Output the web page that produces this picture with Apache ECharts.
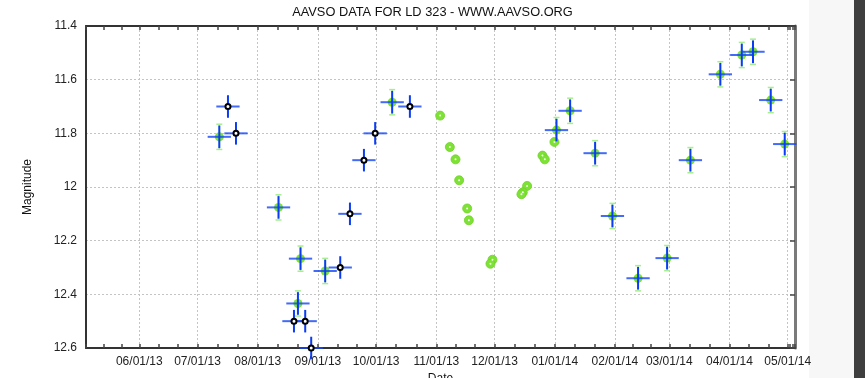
<!DOCTYPE html>
<html>
<head>
<meta charset="utf-8">
<script src="https://cdn.jsdelivr.net/npm/echarts@6/dist/echarts.min.js"></script>
<style>
html,body{margin:0;padding:0;background:#fff;}
#c{width:865px;height:378px;}
</style>
</head>
<body>
<div id="c"></div>
<script>
// Black open circles (with error crosses)
const blackDates = ['2013-07-16 16:00','2013-07-20 19:00','2013-09-24 17:00','2013-09-30 12:00','2013-10-18 09:00',
  '2013-09-17 12:00','2013-09-12 12:00','2013-08-19 16:00','2013-08-25 11:00','2013-08-28 13:00'];
const blackMags = [11.70,11.80,11.90,11.80,11.70,12.10,12.30,12.50,12.50,12.60];

// Green filled circles (with error crosses)
const greenDates = ['2013-07-12 05:00','2013-10-09 06:00','2013-08-11 17:00','2013-08-23 01:00','2013-09-04 18:00',
  '2013-08-21 17:00','2014-01-01 21:00','2014-01-08 22:00','2014-01-21 19:00','2014-03-11 21:00','2014-03-27 07:00',
  '2014-04-07 08:00','2014-04-13 03:00','2014-04-22 06:00','2014-04-29 11:00','2014-01-30 17:00','2014-02-12 22:00',
  '2014-02-27 21:00'];
const greenMags = [11.813,11.684,12.076,12.267,12.313,12.434,11.788,11.716,11.874,11.900,11.580,
  11.508,11.496,11.676,11.840,12.108,12.340,12.265];

// Green circles without crosses
const dotDates = ['2013-11-02 23:00','2013-11-07 23:00','2013-11-10 21:00','2013-11-12 18:00','2013-11-16 21:00',
  '2013-11-17 18:00','2013-11-29 22:00','2013-11-28 21:00','2013-12-17 18:00','2013-12-15 13:00','2013-12-14 20:00',
  '2013-12-25 16:00','2013-12-26 21:00','2013-12-31 20:00'];
const dotMags = [11.734,11.851,11.897,11.975,12.080,12.124,12.271,12.286,11.996,12.020,12.027,11.883,11.897,11.832];

const yTicks = ['11.4','11.6','11.8','12','12.2','12.4','12.6'];

const HALF_SPAN = 6 * 86400000;   // half width of time bar
const MAG_ERR = 0.042;           // half height of error bar
const GREEN_ERR = 0.047;

const pair = (d, m) => d.map((v, i) => [echarts.time.parse(v).getTime(), m[i]]);
const blackData = pair(blackDates, blackMags);
const greenData = pair(greenDates, greenMags);
const dotData = pair(dotDates, dotMags);

function crossRender(params, api) {
  const t = api.value(0), m = api.value(1);
  const c = api.coord([t, m]);
  const l = api.coord([t - HALF_SPAN, m]);
  const r = api.coord([t + HALF_SPAN, m]);
  const tp = api.coord([t, m - MAG_ERR]);
  const bt = api.coord([t, m + MAG_ERR]);
  return {type: 'group', children: [
    {type: 'line', shape: {x1: l[0], y1: c[1], x2: r[0], y2: c[1]}, style: {stroke: 'rgba(20,70,245,0.8)', lineWidth: 2}},
    {type: 'line', shape: {x1: c[0], y1: tp[1], x2: c[0], y2: bt[1]}, style: {stroke: '#0a3cf5', lineWidth: 2}}
  ]};
}
function greenErrRender(params, api) {
  const t = api.value(0), m = api.value(1);
  const tp = api.coord([t, m - GREEN_ERR]);
  const bt = api.coord([t, m + GREEN_ERR]);
  const st = {stroke: '#a8ee90', lineWidth: 1.5};
  return {type: 'group', children: [
    {type: 'line', shape: {x1: tp[0], y1: tp[1], x2: bt[0], y2: bt[1]}, style: st},
    {type: 'line', shape: {x1: tp[0] - 3, y1: tp[1], x2: tp[0] + 3, y2: tp[1]}, style: st},
    {type: 'line', shape: {x1: bt[0] - 3, y1: bt[1], x2: bt[0] + 3, y2: bt[1]}, style: st}
  ]};
}

const xMin = '2013-05-04 13:00', xMax = '2014-05-04 18:00';
const FONT = 'Liberation Sans, Arial, sans-serif';

const chart = echarts.init(document.getElementById('c'), null, {renderer: 'canvas'});
chart.setOption({
  animation: false,
  backgroundColor: '#fff',
  title: {text: 'AAVSO DATA FOR LD 323 - WWW.AAVSO.ORG', left: 'center', top: 1,
    textStyle: {fontFamily: FONT, fontSize: 12.8, fontWeight: 'normal', color: '#111'}},
  graphic: [
    {type: 'rect', shape: {x: 809, y: 0, width: 45, height: 378}, style: {fill: '#f7f7f7'}, z: -10},
    {type: 'rect', shape: {x: 854, y: 0, width: 11, height: 378}, style: {fill: '#3e3e3e'}, z: -10}
  ],
  grid: {left: 86, right: 70, top: 26, bottom: 30, containLabel: false, outerBoundsMode: 'none'},
  xAxis: [{
    type: 'time', min: xMin, max: xMax, position: 'bottom',
    minInterval: 28 * 86400000, maxInterval: 31 * 86400000,
    name: 'Date', nameLocation: 'middle', nameGap: 24,
    nameTextStyle: {fontFamily: FONT, fontSize: 12, color: '#111'},
    axisLine: {lineStyle: {color: '#333', width: 2}},
    axisTick: {inside: true, length: 4, lineStyle: {color: '#444', width: 1.5}},
    minorTick: {show: true, splitNumber: 3, length: 4, lineStyle: {color: '#444', width: 1.5}},
    axisLabel: {fontFamily: FONT, fontSize: 12, color: '#222', margin: 8,
      formatter: v => echarts.time.format(v, '{MM}/{dd}/{yy}', false)},
    splitLine: {show: true, lineStyle: {color: '#c4c4c4', type: [2, 2], width: 1}}
  }, {
    type: 'time', min: xMin, max: xMax, position: 'top',
    minInterval: 28 * 86400000, maxInterval: 31 * 86400000,
    axisLine: {lineStyle: {color: '#333', width: 2}},
    axisTick: {inside: true, length: 4, lineStyle: {color: '#444', width: 1.5}},
    minorTick: {show: true, splitNumber: 3, length: 4, lineStyle: {color: '#444', width: 1.5}},
    axisLabel: {show: false}, splitLine: {show: false}
  }],
  yAxis: [{
    type: 'value', inverse: true, min: 11.4, max: 12.6, interval: 0.2, position: 'left',
    name: 'Magnitude', nameLocation: 'middle', nameGap: 52,
    nameTextStyle: {fontFamily: FONT, fontSize: 12, color: '#111'},
    axisLine: {show: true, lineStyle: {color: '#333', width: 2}},
    axisTick: {show: false},
    axisLabel: {fontFamily: FONT, fontSize: 12, color: '#222', margin: 9,
      formatter: (v, i) => yTicks[i]},
    splitLine: {show: true, lineStyle: {color: '#c4c4c4', type: [2, 2], width: 1}}
  }, {
    type: 'value', inverse: true, min: 11.4, max: 12.6, interval: 0.2, position: 'right',
    axisLine: {show: true, lineStyle: {color: '#7a7a7a', width: 3}},
    axisTick: {show: true, inside: true, length: 5, lineStyle: {color: '#444', width: 1.5}},
    axisLabel: {show: false}, splitLine: {show: false}
  }],
  series: [
    {type: 'custom', name: 'greenErr', data: greenData, renderItem: greenErrRender, clip: false, z: 2,
      encode: {x: 0, y: 1}},
    {type: 'scatter', name: 'green', data: greenData, symbol: 'circle', symbolSize: 9, z: 3,
      itemStyle: {color: '#7ee234', opacity: 1}},
    {type: 'scatter', name: 'dots', data: dotData, symbol: 'circle', symbolSize: 9, z: 3,
      itemStyle: {color: '#7ee234', borderColor: '#6fd228', borderWidth: 0.8, opacity: 1}},
    {type: 'scatter', name: 'dotsCenter', data: dotData, symbol: 'circle', symbolSize: 2, z: 4,
      itemStyle: {color: '#f4fff0', opacity: 1}},
    {type: 'custom', name: 'greenCross', data: greenData, renderItem: crossRender, clip: false, z: 5,
      encode: {x: 0, y: 1}},
    {type: 'custom', name: 'blackCross', data: blackData, renderItem: crossRender, clip: false, z: 5,
      encode: {x: 0, y: 1}},
    {type: 'scatter', name: 'black', data: blackData, symbol: 'circle', symbolSize: 5, z: 6, clip: false,
      itemStyle: {color: '#ffffff', borderColor: '#000', borderWidth: 2, opacity: 1}}
  ]
});
</script>
</body>
</html>
